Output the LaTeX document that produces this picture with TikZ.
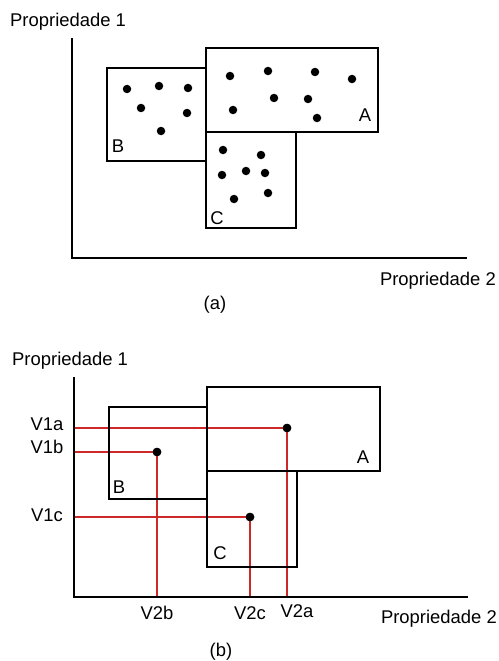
\documentclass[tikz,border=0pt]{standalone}
\usepackage{fontspec}
\setmainfont{Liberation Sans}
\begin{document}
\begin{tikzpicture}[x=1bp,y=-1bp,
  lbl/.style={inner sep=0pt,font=\fontsize{18.5}{20}\selectfont},
  axis/.style={line width=2bp,line cap=rect},
  pt/.style={circle,fill=black,inner sep=0pt,minimum size=8.5bp},
  proj/.style={draw=projred,line width=1.5bp}]
\definecolor{projred}{RGB}{205,40,40}
\useasboundingbox (0,0) rectangle (499,661);
\fill[white] (0,0) rectangle (499,661);

% ---------- (a) ----------
\coordinate (oa) at (72,258);
\coordinate (ya) at (72,39);
\coordinate (xa) at (466,258);
\draw[axis] (ya) -- (oa) -- (xa);
\node[lbl,anchor=west] (pa1) at (10,22) {Propriedade 1};
\node[lbl,anchor=east] (pa2) at (496,281) {Propriedade 2};
\node[lbl] (capa) at (215,305) {(a)};

\draw[line width=2bp] (206,48) rectangle (378,132);
\draw[line width=2bp] (206,68) -- (107,68) -- (107,161) -- (206,161);
\draw[line width=2bp] (206,132) rectangle (296,228);
\node[lbl] (la) at (365,115) {A};
\node[lbl] (lb) at (118,146) {B};
\node[lbl] (lc) at (217,218) {C};

% points of A
\foreach \p/\q [count=\i] in {230/76,268/71,315/72,352/79,274/98,308/99,233/110,317/118}
  \node[pt] (a\i) at (\p,\q) {};
% points of B
\foreach \p/\q [count=\i] in {127/89,159/86,188/88,141/108,187/113,161/131}
  \node[pt] (b\i) at (\p,\q) {};
% points of C
\foreach \p/\q [count=\i] in {223/150,261/155,222/175,246/171,265/173,268/193,234/199}
  \node[pt] (c\i) at (\p,\q) {};

% ---------- (b) ----------
\coordinate (ob) at (74,597);
\coordinate (yb) at (74,378);
\coordinate (xb) at (467,597);
\node[lbl,anchor=west] (pb1) at (12,361) {Propriedade 1};
\node[lbl,anchor=east] (pb2) at (497,619) {Propriedade 2};
\node[lbl] (capb) at (221,652) {(b)};

% projections onto the axes
\node[pt] (da) at (287,428) {};
\node[pt] (db) at (157,452) {};
\node[pt] (dc) at (250,517) {};
\coordinate (ha) at (74,428);
\coordinate (hb) at (74,452);
\coordinate (hc) at (74,517);
\coordinate (va) at (287,597);
\coordinate (vb) at (157,597);
\coordinate (vc) at (250,597);
\draw[proj] (ha) -- (da.center) -- (va);
\draw[proj] (hb) -- (db.center) -- (vb);
\draw[proj] (hc) -- (dc.center) -- (vc);

\draw[line width=2bp] (207,387) rectangle (380,471);
\draw[line width=2bp] (207,407) -- (109,407) -- (109,499) -- (207,499);
\draw[line width=2bp] (207,471) rectangle (297,567);
\node[lbl] (lba) at (363,457) {A};
\node[lbl] (lbb) at (119,487) {B};
\node[lbl] (lbc) at (220,553) {C};
\node[pt] at (da) {};
\node[pt] at (db) {};
\node[pt] at (dc) {};

\draw[axis] (yb) -- (ob) -- (xb);

\node[lbl] (v1a) at (47,424) {V1a};
\node[lbl] (v1b) at (47,447) {V1b};
\node[lbl] (v1c) at (47,515) {V1c};
\node[lbl] (v2b) at (157,613) {V2b};
\node[lbl] (v2c) at (250,613) {V2c};
\node[lbl] (v2a) at (297,611) {V2a};
\end{tikzpicture}
\end{document}
